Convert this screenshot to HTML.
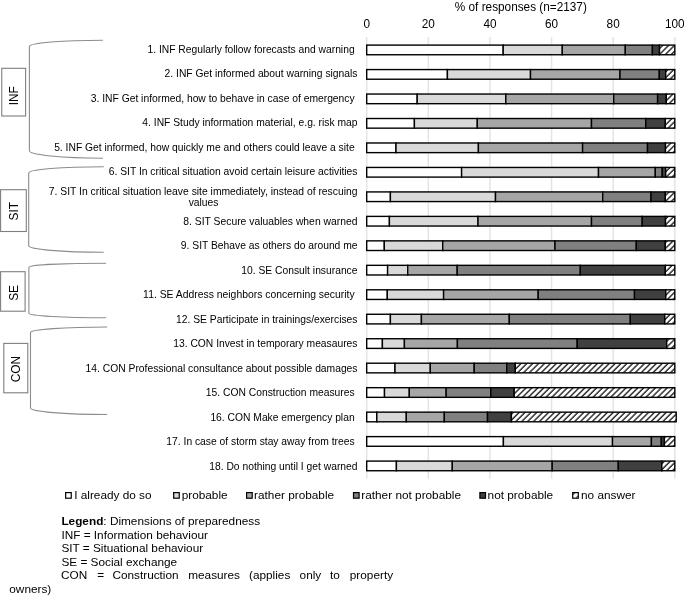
<!DOCTYPE html><html><head><meta charset="utf-8"><style>html,body{margin:0;padding:0;background:#fff;width:685px;height:597px;overflow:hidden}svg{display:block;will-change:transform}text{font-family:"Liberation Sans",sans-serif;fill:#000}</style></head><body>
<svg width="685" height="597" viewBox="0 0 685 597">
<defs><pattern id="hatch" patternUnits="userSpaceOnUse" width="4.158" height="4.158" patternTransform="rotate(45)"><rect width="4.2" height="4.2" fill="#fff"/><line x1="1.754" y1="-1" x2="1.754" y2="6" stroke="#111" stroke-width="1.3"/></pattern>
<pattern id="hatchL" patternUnits="userSpaceOnUse" width="4.158" height="4.158" patternTransform="rotate(45)"><rect width="4.2" height="4.2" fill="#fff"/><line x1="2.60" y1="-1" x2="2.60" y2="6" stroke="#111" stroke-width="1.0"/></pattern></defs>
<rect width="685" height="597" fill="#fff"/>
<text transform="translate(520.8 10.8) scale(1 1.08)" font-size="11.8" text-anchor="middle">% of responses (n=2137)</text>
<text transform="translate(366.70 27.7) scale(1 1.1)" font-size="11.8" text-anchor="middle">0</text>
<text transform="translate(428.32 27.7) scale(1 1.1)" font-size="11.8" text-anchor="middle">20</text>
<text transform="translate(489.94 27.7) scale(1 1.1)" font-size="11.8" text-anchor="middle">40</text>
<text transform="translate(551.56 27.7) scale(1 1.1)" font-size="11.8" text-anchor="middle">60</text>
<text transform="translate(613.18 27.7) scale(1 1.1)" font-size="11.8" text-anchor="middle">80</text>
<text transform="translate(674.80 27.7) scale(1 1.1)" font-size="11.8" text-anchor="middle">100</text>
<line x1="366.70" y1="37.1" x2="366.70" y2="478.8" stroke="#e4e4e4" stroke-width="1.5"/>
<line x1="428.32" y1="37.1" x2="428.32" y2="478.8" stroke="#e4e4e4" stroke-width="1.5"/>
<line x1="489.94" y1="37.1" x2="489.94" y2="478.8" stroke="#e4e4e4" stroke-width="1.5"/>
<line x1="551.56" y1="37.1" x2="551.56" y2="478.8" stroke="#e4e4e4" stroke-width="1.5"/>
<line x1="613.18" y1="37.1" x2="613.18" y2="478.8" stroke="#e4e4e4" stroke-width="1.5"/>
<line x1="674.80" y1="37.1" x2="674.80" y2="478.8" stroke="#e4e4e4" stroke-width="1.5"/>
<rect x="366.70" y="45.10" width="136.50" height="9.65" fill="#ffffff" stroke="#000" stroke-width="1.40"/>
<rect x="503.20" y="45.10" width="59.10" height="9.65" fill="#d9d9d9" stroke="#000" stroke-width="1.40"/>
<rect x="562.30" y="45.10" width="63.00" height="9.65" fill="#a6a6a6" stroke="#000" stroke-width="1.40"/>
<rect x="625.30" y="45.10" width="27.10" height="9.65" fill="#808080" stroke="#000" stroke-width="1.40"/>
<rect x="652.40" y="45.10" width="7.10" height="9.65" fill="#404040" stroke="#000" stroke-width="1.40"/>
<rect x="659.50" y="45.10" width="15.30" height="9.65" fill="url(#hatch)" stroke="#000" stroke-width="1.40"/>
<rect x="366.70" y="69.57" width="80.70" height="9.65" fill="#ffffff" stroke="#000" stroke-width="1.40"/>
<rect x="447.40" y="69.57" width="83.10" height="9.65" fill="#d9d9d9" stroke="#000" stroke-width="1.40"/>
<rect x="530.50" y="69.57" width="89.50" height="9.65" fill="#a6a6a6" stroke="#000" stroke-width="1.40"/>
<rect x="620.00" y="69.57" width="39.30" height="9.65" fill="#808080" stroke="#000" stroke-width="1.40"/>
<rect x="659.30" y="69.57" width="6.40" height="9.65" fill="#404040" stroke="#000" stroke-width="1.40"/>
<rect x="665.70" y="69.57" width="9.10" height="9.65" fill="url(#hatch)" stroke="#000" stroke-width="1.40"/>
<rect x="366.70" y="94.04" width="50.50" height="9.65" fill="#ffffff" stroke="#000" stroke-width="1.40"/>
<rect x="417.20" y="94.04" width="88.60" height="9.65" fill="#d9d9d9" stroke="#000" stroke-width="1.40"/>
<rect x="505.80" y="94.04" width="107.90" height="9.65" fill="#a6a6a6" stroke="#000" stroke-width="1.40"/>
<rect x="613.70" y="94.04" width="43.90" height="9.65" fill="#808080" stroke="#000" stroke-width="1.40"/>
<rect x="657.60" y="94.04" width="8.70" height="9.65" fill="#404040" stroke="#000" stroke-width="1.40"/>
<rect x="666.30" y="94.04" width="8.50" height="9.65" fill="url(#hatch)" stroke="#000" stroke-width="1.40"/>
<rect x="366.70" y="118.51" width="47.70" height="9.65" fill="#ffffff" stroke="#000" stroke-width="1.40"/>
<rect x="414.40" y="118.51" width="62.90" height="9.65" fill="#d9d9d9" stroke="#000" stroke-width="1.40"/>
<rect x="477.30" y="118.51" width="114.20" height="9.65" fill="#a6a6a6" stroke="#000" stroke-width="1.40"/>
<rect x="591.50" y="118.51" width="54.20" height="9.65" fill="#808080" stroke="#000" stroke-width="1.40"/>
<rect x="645.70" y="118.51" width="19.60" height="9.65" fill="#404040" stroke="#000" stroke-width="1.40"/>
<rect x="665.30" y="118.51" width="9.50" height="9.65" fill="url(#hatch)" stroke="#000" stroke-width="1.40"/>
<rect x="366.70" y="142.98" width="29.30" height="9.65" fill="#ffffff" stroke="#000" stroke-width="1.40"/>
<rect x="396.00" y="142.98" width="82.40" height="9.65" fill="#d9d9d9" stroke="#000" stroke-width="1.40"/>
<rect x="478.40" y="142.98" width="104.20" height="9.65" fill="#a6a6a6" stroke="#000" stroke-width="1.40"/>
<rect x="582.60" y="142.98" width="64.90" height="9.65" fill="#808080" stroke="#000" stroke-width="1.40"/>
<rect x="647.50" y="142.98" width="18.00" height="9.65" fill="#404040" stroke="#000" stroke-width="1.40"/>
<rect x="665.50" y="142.98" width="9.30" height="9.65" fill="url(#hatch)" stroke="#000" stroke-width="1.40"/>
<rect x="366.70" y="167.45" width="94.90" height="9.65" fill="#ffffff" stroke="#000" stroke-width="1.40"/>
<rect x="461.60" y="167.45" width="136.90" height="9.65" fill="#d9d9d9" stroke="#000" stroke-width="1.40"/>
<rect x="598.50" y="167.45" width="56.80" height="9.65" fill="#a6a6a6" stroke="#000" stroke-width="1.40"/>
<rect x="655.30" y="167.45" width="6.90" height="9.65" fill="#808080" stroke="#000" stroke-width="1.40"/>
<rect x="662.20" y="167.45" width="3.50" height="9.65" fill="#404040" stroke="#000" stroke-width="1.40"/>
<rect x="665.70" y="167.45" width="9.10" height="9.65" fill="url(#hatch)" stroke="#000" stroke-width="1.40"/>
<rect x="366.70" y="191.92" width="23.70" height="9.65" fill="#ffffff" stroke="#000" stroke-width="1.40"/>
<rect x="390.40" y="191.92" width="105.10" height="9.65" fill="#d9d9d9" stroke="#000" stroke-width="1.40"/>
<rect x="495.50" y="191.92" width="107.20" height="9.65" fill="#a6a6a6" stroke="#000" stroke-width="1.40"/>
<rect x="602.70" y="191.92" width="48.30" height="9.65" fill="#808080" stroke="#000" stroke-width="1.40"/>
<rect x="651.00" y="191.92" width="14.30" height="9.65" fill="#404040" stroke="#000" stroke-width="1.40"/>
<rect x="665.30" y="191.92" width="9.50" height="9.65" fill="url(#hatch)" stroke="#000" stroke-width="1.40"/>
<rect x="366.70" y="216.39" width="22.70" height="9.65" fill="#ffffff" stroke="#000" stroke-width="1.40"/>
<rect x="389.40" y="216.39" width="88.60" height="9.65" fill="#d9d9d9" stroke="#000" stroke-width="1.40"/>
<rect x="478.00" y="216.39" width="113.50" height="9.65" fill="#a6a6a6" stroke="#000" stroke-width="1.40"/>
<rect x="591.50" y="216.39" width="50.70" height="9.65" fill="#808080" stroke="#000" stroke-width="1.40"/>
<rect x="642.20" y="216.39" width="23.30" height="9.65" fill="#404040" stroke="#000" stroke-width="1.40"/>
<rect x="665.50" y="216.39" width="9.30" height="9.65" fill="url(#hatch)" stroke="#000" stroke-width="1.40"/>
<rect x="366.70" y="240.86" width="17.60" height="9.65" fill="#ffffff" stroke="#000" stroke-width="1.40"/>
<rect x="384.30" y="240.86" width="58.40" height="9.65" fill="#d9d9d9" stroke="#000" stroke-width="1.40"/>
<rect x="442.70" y="240.86" width="112.30" height="9.65" fill="#a6a6a6" stroke="#000" stroke-width="1.40"/>
<rect x="555.00" y="240.86" width="81.30" height="9.65" fill="#808080" stroke="#000" stroke-width="1.40"/>
<rect x="636.30" y="240.86" width="29.00" height="9.65" fill="#404040" stroke="#000" stroke-width="1.40"/>
<rect x="665.30" y="240.86" width="9.50" height="9.65" fill="url(#hatch)" stroke="#000" stroke-width="1.40"/>
<rect x="366.70" y="265.33" width="20.90" height="9.65" fill="#ffffff" stroke="#000" stroke-width="1.40"/>
<rect x="387.60" y="265.33" width="20.10" height="9.65" fill="#d9d9d9" stroke="#000" stroke-width="1.40"/>
<rect x="407.70" y="265.33" width="49.50" height="9.65" fill="#a6a6a6" stroke="#000" stroke-width="1.40"/>
<rect x="457.20" y="265.33" width="123.10" height="9.65" fill="#808080" stroke="#000" stroke-width="1.40"/>
<rect x="580.30" y="265.33" width="85.00" height="9.65" fill="#404040" stroke="#000" stroke-width="1.40"/>
<rect x="665.30" y="265.33" width="9.50" height="9.65" fill="url(#hatch)" stroke="#000" stroke-width="1.40"/>
<rect x="366.70" y="289.80" width="20.60" height="9.65" fill="#ffffff" stroke="#000" stroke-width="1.40"/>
<rect x="387.30" y="289.80" width="56.30" height="9.65" fill="#d9d9d9" stroke="#000" stroke-width="1.40"/>
<rect x="443.60" y="289.80" width="94.60" height="9.65" fill="#a6a6a6" stroke="#000" stroke-width="1.40"/>
<rect x="538.20" y="289.80" width="96.30" height="9.65" fill="#808080" stroke="#000" stroke-width="1.40"/>
<rect x="634.50" y="289.80" width="31.30" height="9.65" fill="#404040" stroke="#000" stroke-width="1.40"/>
<rect x="665.80" y="289.80" width="9.00" height="9.65" fill="url(#hatch)" stroke="#000" stroke-width="1.40"/>
<rect x="366.70" y="314.27" width="23.70" height="9.65" fill="#ffffff" stroke="#000" stroke-width="1.40"/>
<rect x="390.40" y="314.27" width="31.00" height="9.65" fill="#d9d9d9" stroke="#000" stroke-width="1.40"/>
<rect x="421.40" y="314.27" width="87.90" height="9.65" fill="#a6a6a6" stroke="#000" stroke-width="1.40"/>
<rect x="509.30" y="314.27" width="121.00" height="9.65" fill="#808080" stroke="#000" stroke-width="1.40"/>
<rect x="630.30" y="314.27" width="34.50" height="9.65" fill="#404040" stroke="#000" stroke-width="1.40"/>
<rect x="664.80" y="314.27" width="10.00" height="9.65" fill="url(#hatch)" stroke="#000" stroke-width="1.40"/>
<rect x="366.70" y="338.74" width="15.70" height="9.65" fill="#ffffff" stroke="#000" stroke-width="1.40"/>
<rect x="382.40" y="338.74" width="22.00" height="9.65" fill="#d9d9d9" stroke="#000" stroke-width="1.40"/>
<rect x="404.40" y="338.74" width="53.00" height="9.65" fill="#a6a6a6" stroke="#000" stroke-width="1.40"/>
<rect x="457.40" y="338.74" width="119.80" height="9.65" fill="#808080" stroke="#000" stroke-width="1.40"/>
<rect x="577.20" y="338.74" width="89.50" height="9.65" fill="#404040" stroke="#000" stroke-width="1.40"/>
<rect x="666.70" y="338.74" width="8.10" height="9.65" fill="url(#hatch)" stroke="#000" stroke-width="1.40"/>
<rect x="366.70" y="363.21" width="28.30" height="9.65" fill="#ffffff" stroke="#000" stroke-width="1.40"/>
<rect x="395.00" y="363.21" width="35.30" height="9.65" fill="#d9d9d9" stroke="#000" stroke-width="1.40"/>
<rect x="430.30" y="363.21" width="43.90" height="9.65" fill="#a6a6a6" stroke="#000" stroke-width="1.40"/>
<rect x="474.20" y="363.21" width="32.50" height="9.65" fill="#808080" stroke="#000" stroke-width="1.40"/>
<rect x="506.70" y="363.21" width="8.60" height="9.65" fill="#404040" stroke="#000" stroke-width="1.40"/>
<rect x="515.30" y="363.21" width="159.50" height="9.65" fill="url(#hatch)" stroke="#000" stroke-width="1.40"/>
<rect x="366.70" y="387.68" width="17.80" height="9.65" fill="#ffffff" stroke="#000" stroke-width="1.40"/>
<rect x="384.50" y="387.68" width="24.80" height="9.65" fill="#d9d9d9" stroke="#000" stroke-width="1.40"/>
<rect x="409.30" y="387.68" width="36.90" height="9.65" fill="#a6a6a6" stroke="#000" stroke-width="1.40"/>
<rect x="446.20" y="387.68" width="44.60" height="9.65" fill="#808080" stroke="#000" stroke-width="1.40"/>
<rect x="490.80" y="387.68" width="23.40" height="9.65" fill="#404040" stroke="#000" stroke-width="1.40"/>
<rect x="514.20" y="387.68" width="160.60" height="9.65" fill="url(#hatch)" stroke="#000" stroke-width="1.40"/>
<rect x="366.70" y="412.15" width="10.10" height="9.65" fill="#ffffff" stroke="#000" stroke-width="1.40"/>
<rect x="376.80" y="412.15" width="29.50" height="9.65" fill="#d9d9d9" stroke="#000" stroke-width="1.40"/>
<rect x="406.30" y="412.15" width="38.00" height="9.65" fill="#a6a6a6" stroke="#000" stroke-width="1.40"/>
<rect x="444.30" y="412.15" width="43.20" height="9.65" fill="#808080" stroke="#000" stroke-width="1.40"/>
<rect x="487.50" y="412.15" width="23.90" height="9.65" fill="#404040" stroke="#000" stroke-width="1.40"/>
<rect x="511.40" y="412.15" width="164.80" height="9.65" fill="url(#hatch)" stroke="#000" stroke-width="1.40"/>
<rect x="366.70" y="436.62" width="136.70" height="9.65" fill="#ffffff" stroke="#000" stroke-width="1.40"/>
<rect x="503.40" y="436.62" width="109.10" height="9.65" fill="#d9d9d9" stroke="#000" stroke-width="1.40"/>
<rect x="612.50" y="436.62" width="38.90" height="9.65" fill="#a6a6a6" stroke="#000" stroke-width="1.40"/>
<rect x="651.40" y="436.62" width="9.90" height="9.65" fill="#808080" stroke="#000" stroke-width="1.40"/>
<rect x="661.30" y="436.62" width="3.10" height="9.65" fill="#404040" stroke="#000" stroke-width="1.40"/>
<rect x="664.40" y="436.62" width="10.40" height="9.65" fill="url(#hatch)" stroke="#000" stroke-width="1.40"/>
<rect x="366.70" y="461.09" width="29.70" height="9.65" fill="#ffffff" stroke="#000" stroke-width="1.40"/>
<rect x="396.40" y="461.09" width="55.90" height="9.65" fill="#d9d9d9" stroke="#000" stroke-width="1.40"/>
<rect x="452.30" y="461.09" width="99.90" height="9.65" fill="#a6a6a6" stroke="#000" stroke-width="1.40"/>
<rect x="552.20" y="461.09" width="66.10" height="9.65" fill="#808080" stroke="#000" stroke-width="1.40"/>
<rect x="618.30" y="461.09" width="43.50" height="9.65" fill="#404040" stroke="#000" stroke-width="1.40"/>
<rect x="661.80" y="461.09" width="13.00" height="9.65" fill="url(#hatch)" stroke="#000" stroke-width="1.40"/>
<text x="354.64" y="52.90" font-size="10.30" text-anchor="end">1. INF Regularly follow forecasts and warning</text>
<text x="357.50" y="77.42" font-size="10.30" text-anchor="end">2. INF Get informed about warning signals</text>
<text x="354.64" y="101.94" font-size="10.30" text-anchor="end">3. INF Get informed, how to behave in case of emergency</text>
<text x="357.50" y="126.45" font-size="10.30" text-anchor="end">4. INF Study information material, e.g. risk map</text>
<text x="354.64" y="150.97" font-size="10.30" text-anchor="end">5. INF Get informed, how quickly me and others could leave a site</text>
<text x="357.50" y="175.49" font-size="10.30" text-anchor="end">6. SIT In critical situation avoid certain leisure activities</text>
<text x="357.50" y="194.65" font-size="10.30" text-anchor="end" textLength="308.71" lengthAdjust="spacingAndGlyphs">7. SIT In critical situation leave site immediately, instead of rescuing</text>
<text x="203.60" y="205.86" font-size="10.30" text-anchor="middle">values</text>
<text x="357.50" y="224.53" font-size="10.30" text-anchor="end" textLength="174.28" lengthAdjust="spacingAndGlyphs">8. SIT Secure valuables when warned</text>
<text x="357.50" y="249.04" font-size="10.30" text-anchor="end">9. SIT Behave as others do around me</text>
<text x="357.50" y="273.56" font-size="10.30" text-anchor="end">10. SE Consult insurance</text>
<text x="354.64" y="298.08" font-size="10.30" text-anchor="end" textLength="211.50" lengthAdjust="spacingAndGlyphs">11. SE Address neighbors concerning security</text>
<text x="357.50" y="322.60" font-size="10.30" text-anchor="end">12. SE Participate in trainings/exercises</text>
<text x="357.50" y="347.12" font-size="10.30" text-anchor="end">13. CON Invest in temporary measaures</text>
<text x="357.50" y="371.63" font-size="10.30" text-anchor="end">14. CON Professional consultance about possible damages</text>
<text x="354.64" y="396.15" font-size="10.30" text-anchor="end">15. CON Construction measures</text>
<text x="354.64" y="420.67" font-size="10.30" text-anchor="end">16. CON Make emergency plan</text>
<text x="354.64" y="445.19" font-size="10.30" text-anchor="end">17. In case of storm stay away from trees</text>
<text x="357.50" y="469.71" font-size="10.30" text-anchor="end">18. Do nothing until I get warned</text>
<path d="M103.00 40.20 A73.60 6.30 0 0 0 29.40 46.50 L29.40 150.80 A73.60 7.40 0 0 0 103.00 158.20" fill="none" stroke="#8c8c8c" stroke-width="1.1"/>
<path d="M103.80 166.70 A75.10 6.30 0 0 0 28.70 173.00 L28.70 245.80 A75.10 6.50 0 0 0 103.80 252.30" fill="none" stroke="#8c8c8c" stroke-width="1.1"/>
<path d="M106.10 263.30 A77.20 3.90 0 0 0 28.90 267.20 L28.90 313.20 A77.20 4.60 0 0 0 106.10 317.80" fill="none" stroke="#8c8c8c" stroke-width="1.1"/>
<path d="M107.20 327.00 A76.70 5.50 0 0 0 30.50 332.50 L30.50 408.00 A76.70 6.50 0 0 0 107.20 414.50" fill="none" stroke="#8c8c8c" stroke-width="1.1"/>
<rect x="1.75" y="68.30" width="23.85" height="47.70" fill="#fff" stroke="#7f7f7f" stroke-width="1.1"/>
<text transform="translate(18.40 95.70) rotate(-90)" font-size="11.9" text-anchor="middle">INF</text>
<rect x="0.60" y="189.70" width="25.70" height="41.80" fill="#fff" stroke="#7f7f7f" stroke-width="1.1"/>
<text transform="translate(17.50 211.30) rotate(-90)" font-size="11.9" text-anchor="middle">SIT</text>
<rect x="0.60" y="271.70" width="24.50" height="39.50" fill="#fff" stroke="#7f7f7f" stroke-width="1.1"/>
<text transform="translate(18.40 292.90) rotate(-90)" font-size="11.9" text-anchor="middle">SE</text>
<rect x="3.80" y="343.40" width="24.00" height="49.40" fill="#fff" stroke="#7f7f7f" stroke-width="1.1"/>
<text transform="translate(20.30 369.00) rotate(-90)" font-size="11.9" text-anchor="middle">CON</text>
<rect x="65.65" y="492.6" width="5.6" height="5.6" fill="#ffffff" stroke="#000" stroke-width="1.2"/>
<text x="74.20" y="498.8" font-size="11.80">I already do so</text>
<rect x="173.65" y="492.6" width="5.6" height="5.6" fill="#d9d9d9" stroke="#000" stroke-width="1.2"/>
<text x="181.70" y="498.8" font-size="11.80">probable</text>
<rect x="246.60" y="492.6" width="5.6" height="5.6" fill="#a6a6a6" stroke="#000" stroke-width="1.2"/>
<text x="254.10" y="498.8" font-size="11.80">rather probable</text>
<rect x="353.50" y="492.6" width="5.6" height="5.6" fill="#808080" stroke="#000" stroke-width="1.2"/>
<text x="361.30" y="498.8" font-size="11.80">rather not probable</text>
<rect x="479.90" y="492.6" width="5.6" height="5.6" fill="#404040" stroke="#000" stroke-width="1.2"/>
<text x="487.60" y="498.8" font-size="11.80">not probable</text>
<rect x="572.70" y="492.6" width="5.6" height="5.6" fill="#fff"/>
<path d="M573.30 493.20L575.30 493.20L573.30 495.20ZM577.70 497.60L575.70 497.60L577.70 495.60Z" fill="#222"/>
<rect x="572.70" y="492.6" width="5.6" height="5.6" fill="none" stroke="#000" stroke-width="1.2"/>
<text x="581.00" y="498.8" font-size="11.80">no answer</text>
<text x="61.40" y="524.8" font-size="11.80"><tspan font-weight="bold">Legend</tspan>: Dimensions of preparedness</text>
<text x="61.40" y="539.0" font-size="11.80">INF = Information behaviour</text>
<text x="61.40" y="552.4" font-size="11.80">SIT = Situational behaviour</text>
<text x="61.40" y="565.9" font-size="11.80">SE = Social exchange</text>
<text x="61.10" y="579.3" font-size="11.80">CON</text>
<text x="97.20" y="579.3" font-size="11.80">=</text>
<text x="112.40" y="579.3" font-size="11.80">Construction</text>
<text x="188.20" y="579.3" font-size="11.80">measures</text>
<text x="249.00" y="579.3" font-size="11.80">(applies</text>
<text x="299.60" y="579.3" font-size="11.80">only</text>
<text x="330.00" y="579.3" font-size="11.80">to</text>
<text x="349.80" y="579.3" font-size="11.80">property</text>
<text x="9.3" y="593.0" font-size="11.80">owners)</text>
</svg></body></html>
